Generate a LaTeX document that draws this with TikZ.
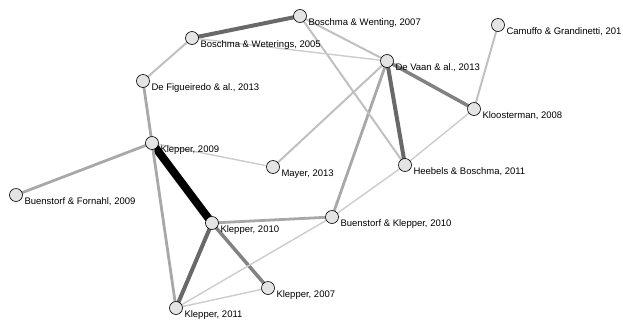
\documentclass[tikz,border=0pt]{standalone}
\usepackage{fontspec}
\setmainfont{Liberation Sans}
\usepackage{xcolor}
\usepackage{tikz}
\usetikzlibrary{positioning, backgrounds}
\definecolor{paperfill}{RGB}{228, 228, 228}
\definecolor{tiestrong}{RGB}{0, 0, 0}
\definecolor{tiedark}{RGB}{105, 105, 105}
\definecolor{tiemid}{RGB}{130, 130, 130}
\definecolor{tiegray}{RGB}{168, 168, 168}
\definecolor{tielight}{RGB}{192, 192, 192}
\definecolor{tiefaint}{RGB}{204, 204, 204}
\tikzset{
  font=\fontsize{9.5}{11}\selectfont,
  paper/.style={
    circle, draw=black, line width=0.6pt, fill=paperfill,
    minimum size=13pt, inner sep=0pt
  },
  paperlabel/.style={inner sep=0pt, xshift=1.5pt, yshift=-7pt},
  tie/.style={line cap=round},
  tiestrongline/.style={tie, draw=tiestrong, line width=8pt},
  tiedarkline/.style={tie, draw=tiedark, line width=4pt},
  tiemidline/.style={tie, draw=tiemid, line width=3.5pt},
  tiegrayline/.style={tie, draw=tiegray, line width=2.8pt},
  tielightline/.style={tie, draw=tielight, line width=2pt},
  tiefaintline/.style={tie, draw=tiefaint, line width=1.4pt}
}

\begin{document}
\begin{tikzpicture}[x=1pt, y=-1pt]

  \useasboundingbox (0,0) rectangle (623,322);

  % Boschma cluster (top)
  \node[paper, label={[paperlabel]right:{Boschma \& Wenting, 2007}}] (wenting) at (300,16) {};
  \node[paper, label={[paperlabel]right:{Boschma \& Weterings, 2005}}] (weterings) at (192,38) {};
  \node[paper, label={[paperlabel]right:{De Figueiredo \& al., 2013}}] (figueiredo) at (143,81) {};
  \node[paper, label={[paperlabel]right:{De Vaan \& al., 2013}}] (devaan) at (387,61) {};
  \node[paper, label={[paperlabel]right:{Camuffo \& Grandinetti, 201}}] (camuffo) at (498,25) {};
  \node[paper, label={[paperlabel]right:{Kloosterman, 2008}}] (kloosterman) at (474,109) {};
  \node[paper, label={[paperlabel]right:{Heebels \& Boschma, 2011}}] (heebels) at (405,165) {};

  % Klepper cluster (bottom)
  \node[paper, label={[paperlabel]right:{Klepper, 2009}}] (klepperA) at (152,143) {};
  \node[paper, label={[paperlabel]right:{Buenstorf \& Fornahl, 2009}}] (fornahl) at (16,195) {};
  \node[paper, label={[paperlabel]right:{Mayer, 2013}}] (mayer) at (273,167) {};
  \node[paper, label={[paperlabel]right:{Klepper, 2010}}] (klepperB) at (212,223) {};
  \node[paper, label={[paperlabel]right:{Buenstorf \& Klepper, 2010}}] (buenstorf) at (332,217) {};
  \node[paper, label={[paperlabel]right:{Klepper, 2007}}] (klepperC) at (268,288) {};
  \node[paper, label={[paperlabel]right:{Klepper, 2011}}] (klepperD) at (176,308) {};

  \begin{scope}[on background layer]
    \draw[tiestrongline] (klepperA.center) -- (klepperB.center);
    \draw[tiedarkline] (klepperB.center) -- (klepperD.center);
    \draw[tiedarkline] (wenting.center) -- (weterings.center);
    \draw[tiedarkline] (devaan.center) -- (heebels.center);
    \draw[tiemidline] (klepperB.center) -- (klepperC.center);
    \draw[tiemidline] (devaan.center) -- (kloosterman.center);
    \draw[tiegrayline] (klepperA.center) -- (fornahl.center);
    \draw[tiegrayline] (klepperA.center) -- (klepperD.center);
    \draw[tiegrayline] (klepperA.center) -- (figueiredo.center);
    \draw[tiegrayline] (klepperB.center) -- (buenstorf.center);
    \draw[tiegrayline] (buenstorf.center) -- (devaan.center);
    \draw[tielightline] (weterings.center) -- (figueiredo.center);
    \draw[tielightline] (wenting.center) -- (heebels.center);
    \draw[tielightline] (wenting.center) -- (devaan.center);
    \draw[tielightline] (devaan.center) -- (mayer.center);
    \draw[tielightline] (kloosterman.center) -- (camuffo.center);
    \draw[tiefaintline] (weterings.center) -- (devaan.center);
    \draw[tiefaintline] (klepperA.center) -- (mayer.center);
    \draw[tiefaintline] (klepperD.center) -- (buenstorf.center);
    \draw[tiefaintline] (klepperD.center) -- (klepperC.center);
    \draw[tiefaintline] (buenstorf.center) -- (heebels.center);
    \draw[tiefaintline] (heebels.center) -- (kloosterman.center);
  \end{scope}

\end{tikzpicture}
\end{document}
